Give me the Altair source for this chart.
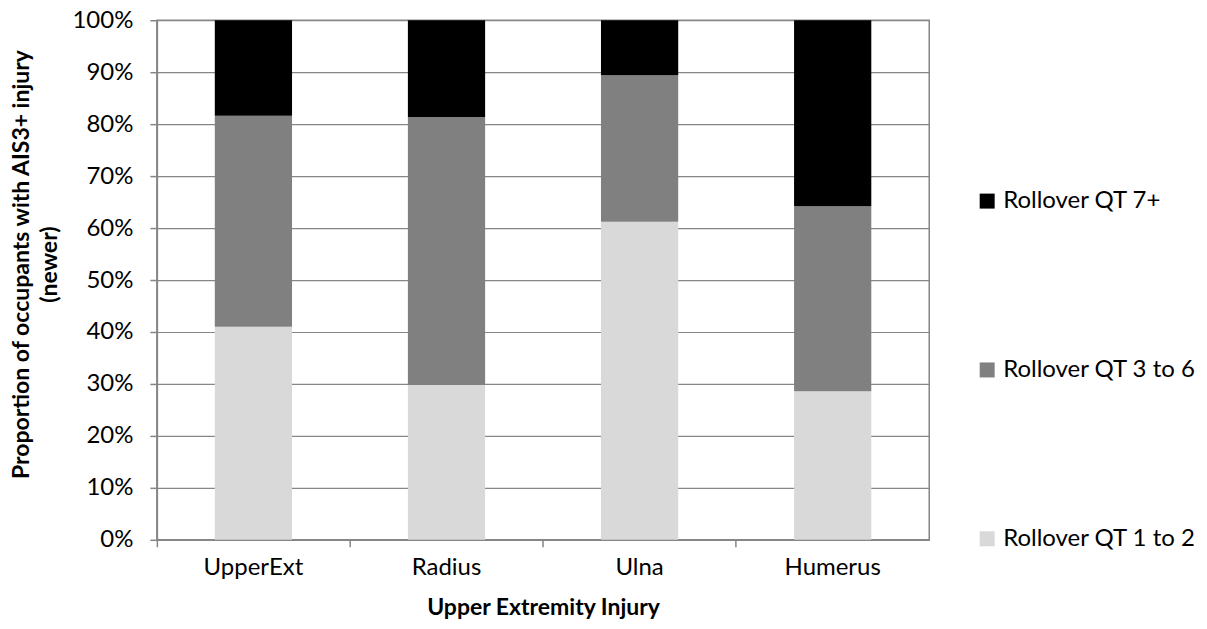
import altair as alt
import pandas as pd

categories = ["UpperExt", "Radius", "Ulna", "Humerus"]
series = ["Rollover QT 7+", "Rollover QT 3 to 6", "Rollover QT 1 to 2"]
colors = ["#000000", "#808080", "#d9d9d9"]
qt_1_2 = [41.0, 29.8, 61.2, 28.6]
qt_3_6 = [40.6, 51.6, 28.2, 35.6]
qt_7p = [18.4, 18.6, 10.6, 35.8]
y_ticks = [0, 10, 20, 30, 40, 50, 60, 70, 80, 90, 100]

rows = []
for i, c in enumerate(categories):
    rows.append({"cat": c, "series": "Rollover QT 1 to 2", "value": qt_1_2[i], "ord": 0})
    rows.append({"cat": c, "series": "Rollover QT 3 to 6", "value": qt_3_6[i], "ord": 1})
    rows.append({"cat": c, "series": "Rollover QT 7+", "value": qt_7p[i], "ord": 2})
df = pd.DataFrame(rows)

FONT = "Lato"

chart = alt.Chart(df).mark_bar().encode(
    x=alt.X("cat:N", sort=categories,
            scale=alt.Scale(paddingInner=0.6, paddingOuter=0.3),
            axis=alt.Axis(title="Upper Extremity Injury", labelAngle=0,
                          bandPosition=-0.75,
                          tickSize=7, labelPadding=9,
                          titlePadding=17)),
    y=alt.Y("value:Q", stack="zero",
            scale=alt.Scale(domain=[0, 100], nice=False),
            axis=alt.Axis(values=y_ticks, labelExpr="datum.value + '%'",
                          title=["Proportion of occupants with AIS3+ injury", "(newer)"],
                          titleBaseline="bottom", titleX=-123, titleY=244,
                          titleLineHeight=28,
                          tickSize=7, labelPadding=17)),
    color=alt.Color("series:N", scale=alt.Scale(domain=series, range=colors),
                    legend=alt.Legend(title=None, orient="none", legendX=819, legendY=169,
                                      symbolType="square", symbolSize=225,
                                      symbolStrokeWidth=0, rowPadding=145,
                                      labelFontSize=24, labelFont=FONT, labelLimit=0,
                                      labelColor="#000000")),
    order=alt.Order("ord:Q"),
).properties(
    width=773, height=520,
    padding={"left": 149, "top": 12, "right": 270, "bottom": 81},
    autosize=alt.AutoSizeParams(type="none"),
).configure_axis(
    labelFont=FONT, titleFont=FONT, labelFontSize=24, titleFontSize=23,
    labelColor="#000000", titleColor="#000000", titleFontWeight="bold",
    domainColor="#868686", tickColor="#868686", gridColor="#868686",
    domainWidth=1.5, tickWidth=1.5, gridWidth=1.2,
).configure_axisX(grid=False).configure_axisY(grid=True).configure_view(
    stroke="#868686", strokeWidth=1.5
)

chart.save("out.html", embed_options={"renderer": "svg", "actions": False})
